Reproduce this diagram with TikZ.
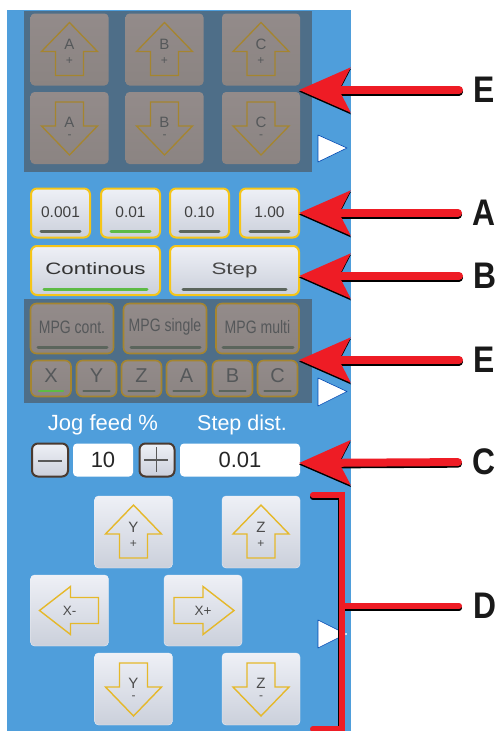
\documentclass[tikz,border=0pt]{standalone}
\usepackage{fontspec}
\usetikzlibrary{arrows.meta}
\setmainfont{Liberation Sans}
\newfontfamily\widefont[FakeStretch=1.35]{Liberation Sans}
\newfontfamily\narrowfont[FakeStretch=.78]{Liberation Sans}
\newfontfamily\callfont[FakeStretch=.86]{Liberation Sans Bold}
\definecolor{panelblue}{HTML}{4F9EDB}
\definecolor{darkpanel}{HTML}{4E6E88}
\definecolor{gold}{HTML}{F5C518}
\definecolor{arrowgold}{HTML}{E5B82A}
\definecolor{dimgold}{HTML}{A5852F}
\definecolor{dimtext}{HTML}{55585A}
\definecolor{barred}{HTML}{EE1C25}
\definecolor{okgreen}{HTML}{5DBB45}
\definecolor{lineGrey}{HTML}{6F7A75}
\definecolor{lightTop}{HTML}{EEF0F6}
\definecolor{lightBot}{HTML}{CBD0DB}
\definecolor{greyTop}{HTML}{938B8A}
\definecolor{greyBot}{HTML}{8B8482}
\definecolor{dimLine}{HTML}{5B655C}
\definecolor{pmedge}{HTML}{4A3A30}
\newcommand{\fs}[1]{\fontsize{#1}{#1}\selectfont}
\tikzset{
  x=1pt,y=-1pt,
  plain/.style={inner sep=0pt,outer sep=0pt},
  lightbtn/.style={plain,rounded corners=4pt,top color=lightTop,bottom color=lightBot,draw=lightTop,line width=.4pt},
  greybtn/.style={plain,rounded corners=4pt,top color=greyTop,bottom color=greyBot,draw=none},
  goldbtn/.style={lightbtn,draw=gold,line width=2pt,rounded corners=6pt},
  dimbtn/.style={greybtn,draw=dimgold,line width=1.6pt,rounded corners=6pt},
  wbox/.style={plain,fill=white,rounded corners=4pt},
  pmbtn/.style={lightbtn,draw=pmedge,line width=2pt,rounded corners=6pt},
  uline/.style={line width=3pt,line cap=round,draw=lineGrey},
  gline/.style={uline,draw=okgreen},
  dline/.style={uline,draw=dimLine},
  pmline/.style={line width=1.3pt,draw=black!65},
  shapeline/.style={draw=arrowgold,line width=1.4pt,line join=miter},
  dimshape/.style={draw=dimgold,line width=1.3pt,line join=miter},
  redshaft/.style={draw=barred,line width=8pt,line cap=round,-{Stealth[length=51pt,width=44pt,inset=11pt]}},
  blackshaft/.style={draw=black,line width=8pt,line cap=round,-{Stealth[length=51pt,width=44pt,inset=11pt]}},
  barline/.style={draw=barred,line width=6pt,line cap=butt},
  barshadow/.style={draw=black,line width=6pt,line cap=round},
  bigletter/.style={plain,font=\callfont\fs{37},text=black!90},
  tri/.style={fill=white,draw=blue!60!cyan!70!black,line width=.6pt,line join=round},
}
\newcommand{\upbtn}[6]{%
  \node[#3,minimum width=78pt,minimum height=72pt] (#1) at #2 {};
  \draw[#4,shift={(#1.center)}] (0,-27) -- (28,2) -- (14,2) -- (14,26) -- (-14,26) -- (-14,2) -- (-28,2) -- cycle;
  \node[plain,text=#6,font=\fs{15}] (#1-a) at ([yshift=5pt]#1.center) {#5};
  \node[plain,text=#6,font=\fs{12}] (#1-b) at ([yshift=-12pt]#1.center) {+};
}
\newcommand{\downbtn}[6]{%
  \node[#3,minimum width=78pt,minimum height=72pt] (#1) at #2 {};
  \draw[#4,shift={(#1.center)}] (0,27) -- (28,-2) -- (14,-2) -- (14,-26) -- (-14,-26) -- (-14,-2) -- (-28,-2) -- cycle;
  \node[plain,text=#6,font=\fs{15}] (#1-a) at ([yshift=5.5pt]#1.center) {#5};
  \node[plain,text=#6,font=\fs{12}] (#1-b) at ([yshift=-9pt]#1.center) {-};
}
\newcommand{\redarrow}[2]{%
  \draw[blackshaft,shorten <=14pt] ([yshift=-1.6pt]#1.west) -- ([yshift=-1.6pt]#2);
  \draw[redshaft,shorten <=14pt] (#1.west) -- (#2);
}
\begin{document}
\begin{tikzpicture}
\useasboundingbox (0,0) rectangle (497,731);
\fill[white] (0,0) rectangle (497,731);
\fill[panelblue] (7,10) rectangle (351,731);
\fill[darkpanel] (24,11) rectangle (312,172);
\fill[darkpanel] (24,299) rectangle (312,403);

% top grey jog buttons
\upbtn{ap}{(69.5,49.5)}{greybtn}{dimshape}{A}{dimtext}
\upbtn{bp}{(164.5,49.5)}{greybtn}{dimshape}{B}{dimtext}
\upbtn{cp}{(261,49.5)}{greybtn}{dimshape}{C}{dimtext}
\downbtn{am}{(69.5,128)}{greybtn}{dimshape}{A}{dimtext}
\downbtn{bm}{(164.5,128)}{greybtn}{dimshape}{B}{dimtext}
\downbtn{cm}{(261,128)}{greybtn}{dimshape}{C}{dimtext}

% increment buttons
\foreach \nm/\cx/\tx in {s1/60.5/0.001,s2/130.5/0.01,s3/199.5/0.10,s4/269.5/1.00}{
  \node[goldbtn,minimum width=59pt,minimum height=49pt] (\nm) at (\cx,213) {};
  \node[plain,font=\fs{15.5},text=black!75] (\nm-t) at (\cx,212) {\tx};
}
\draw[dline] (41,231) -- (80,231);
\draw[gline] (111,231) -- (150,231);
\draw[dline] (180,231) -- (219,231);
\draw[dline] (250,231) -- (289,231);

% mode buttons
\node[goldbtn,minimum width=129pt,minimum height=49pt] (cont) at (95.5,270.5) {};
\node[plain,font=\widefont\fs{16.5},text=black!80] (cont-t) at (95.5,269) {Continous};
\draw[gline] (44,289) -- (147,289);
\node[goldbtn,minimum width=129pt,minimum height=49pt] (stepb) at (234.5,270.5) {};
\node[plain,font=\widefont\fs{16.5},text=black!72] (stepb-t) at (234.5,270) {Step};
\draw[dline] (183,289) -- (286,289);

% MPG buttons
\foreach \nm/\cx/\tx/\lA/\lB in {m1/72/MPG cont./38/107,m2/165/MPG single/131/200,m3/257.5/MPG multi/223/293}{
  \node[dimbtn,minimum width=83pt,minimum height=50pt] (\nm) at (\cx,328.5) {};
  \node[plain,font=\narrowfont\fs{18},text=dimtext] (\nm-t) at (\cx,327) {\tx};
  \draw[dline] (\lA,347) -- (\lB,347);
}
% axis buttons
\foreach \nm/\cx/\tx in {ax/51/X,ay/96.5/Y,az/141.5/Z,aa/186.5/A,ab/232.5/B,ac/277.5/C}{
  \node[dimbtn,minimum width=40pt,minimum height=36pt] (\nm) at (\cx,378.5) {};
  \node[plain,font=\fs{20},text=dimtext] (\nm-t) at (\cx,376) {\tx};
}
\draw[gline,line width=2.4pt] (39,391) -- (63,391);
\foreach \cx in {96.5,141.5,186.5,232.5,277.5}{
  \draw[dline,line width=2.4pt] (\cx-13,391) -- (\cx+13,391);
}

% feed and step
\node[plain,font=\fs{22},text=white] (jog) at (103,425) {Jog feed \%};
\node[plain,font=\fs{21.5},text=white] (dist) at (242,425) {Step dist.};
\node[pmbtn,minimum width=36pt,minimum height=33pt] (minusb) at (50,460) {};
\draw[pmline] (38,461) -- (62,461);
\node[wbox,minimum width=60pt,minimum height=33pt] (feed) at (103,460) {};
\node[plain,font=\fs{22},text=black!85] (feed-t) at (103,460) {10};
\node[pmbtn,minimum width=35pt,minimum height=33pt] (plusb) at (157,460) {};
\draw[pmline] (144,460) -- (168,460) (156.5,447) -- (156.5,472);
\node[wbox,minimum width=120pt,minimum height=33pt] (distv) at (240,460) {};
\node[plain,font=\fs{22},text=black!85] (distv-t) at (240,460) {0.01};

% XYZ jog buttons
\upbtn{yp}{(133.5,532)}{lightbtn}{shapeline}{Y}{black!70}
\upbtn{zp}{(261,532)}{lightbtn}{shapeline}{Z}{black!70}
\downbtn{ym}{(133.5,689)}{lightbtn}{shapeline}{Y}{black!70}
\downbtn{zm}{(261,689)}{lightbtn}{shapeline}{Z}{black!70}
\node[lightbtn,minimum width=78pt,minimum height=71pt] (xm) at (69.5,610.5) {};
\draw[shapeline,shift={(xm.center)}] (-30,0) -- (1,-24) -- (1,-13) -- (29,-13) -- (29,13) -- (1,13) -- (1,24) -- cycle;
\node[plain,font=\fs{13.5},text=black!70] (xm-t) at (xm.center) {X-};
\node[lightbtn,minimum width=78pt,minimum height=71pt] (xp) at (203,610.5) {};
\draw[shapeline,shift={(xp.center)}] (31,0) -- (0,-24) -- (0,-13) -- (-29,-13) -- (-29,13) -- (0,13) -- (0,24) -- cycle;
\node[plain,font=\fs{13.5},text=black!70] (xp-t) at (xp.center) {X+};

% page triangles
\draw[tri] (318,135) -- (347,148) -- (318,162) -- cycle;
\draw[tri] (318,378) -- (347,391.5) -- (318,406) -- cycle;
\draw[tri] (318,620) -- (346,634) -- (318,648) -- cycle;

% labels and call-outs
\node[bigletter,anchor=west] (lE1) at (473,90) {E};
\node[bigletter,anchor=west] (lA) at (472,213) {A};
\node[bigletter,anchor=west] (lB) at (473,276) {B};
\node[bigletter,anchor=west] (lE2) at (473,360) {E};
\node[bigletter,anchor=west] (lC) at (472,462) {C};
\node[bigletter,anchor=west] (lD) at (473,606) {D};
\coordinate (tE1) at (299,90);
\coordinate (tA) at (299,213);
\coordinate (tB) at (299,276);
\coordinate (tE2) at (299,360);
\coordinate (tC) at (299,463);
\redarrow{lE1}{tE1}
\redarrow{lA}{tA}
\redarrow{lB}{tB}
\redarrow{lE2}{tE2}
\redarrow{lC}{tC}

% bracket for D
\coordinate (brT) at (313,495);
\coordinate (brC) at (342,495);
\coordinate (brD) at (342,729);
\coordinate (brB) at (313,729);
\coordinate (brM) at (342,606);
\draw[barshadow] (313,497) -- (338,497);
\draw[barshadow,line cap=butt,line width=1.5pt] (338.3,497) -- (338.3,729);
\draw[barshadow,shorten <=14pt,line width=6pt] ([yshift=-2pt]lD.west) -- ([yshift=-2pt]brM);
\draw[barline,line join=miter,line cap=round] (brT) -- (brC) -- (brD) -- (brB);
\draw[barline,line cap=round,shorten <=14pt] (lD.west) -- (brM);
\fill[white] (346,634) circle (1.2);
\end{tikzpicture}
\end{document}
